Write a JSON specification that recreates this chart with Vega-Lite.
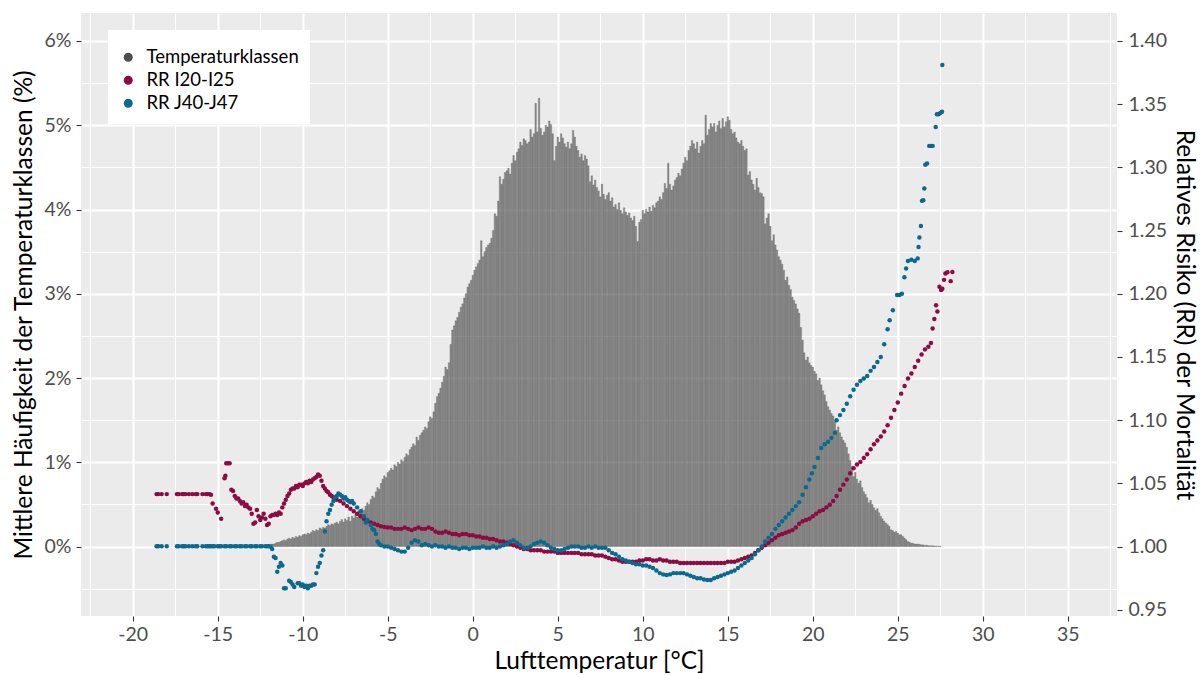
{
"$schema": "https://vega.github.io/schema/vega-lite/v6.json",
"width": 1036, "height": 603,
"autosize": "none",
"padding": {"left": 81, "top": 13, "right": 86, "bottom": 59},
"background": "white",
"config": {"view": {"fill": "#EBEBEB", "stroke": null}, "font": "Lato",
 "axis": {"domain": false, "labelFont": "Lato", "titleFont": "Lato", "labelFontSize": 19.5, "labelColor": "#4D4D4D", "titleFontSize": 24.5, "titleFontWeight": "normal", "titleColor": "#000000", "tickColor": "#333333", "tickSize": 5, "tickWidth": 1.1, "labelOverlap": false, "labelFlush": false}},
"datasets": {
"bars": [
{"t":-11.9,"p":0.02},{"t":-11.8,"p":0.03},{"t":-11.7,"p":0.03},{"t":-11.6,"p":0.04},{"t":-11.5,"p":0.05},{"t":-11.4,"p":0.05},{"t":-11.3,"p":0.06},{"t":-11.2,"p":0.07},{"t":-11.1,"p":0.08},{"t":-11.0,"p":0.07},
{"t":-10.9,"p":0.09},{"t":-10.8,"p":0.10},{"t":-10.7,"p":0.09},{"t":-10.6,"p":0.11},{"t":-10.5,"p":0.10},{"t":-10.4,"p":0.12},{"t":-10.3,"p":0.11},{"t":-10.2,"p":0.13},{"t":-10.1,"p":0.12},{"t":-10.0,"p":0.14},
{"t":-9.9,"p":0.15},{"t":-9.8,"p":0.14},{"t":-9.7,"p":0.16},{"t":-9.6,"p":0.15},{"t":-9.5,"p":0.17},{"t":-9.4,"p":0.19},{"t":-9.3,"p":0.18},{"t":-9.2,"p":0.20},{"t":-9.1,"p":0.19},{"t":-9.0,"p":0.22},
{"t":-8.9,"p":0.21},{"t":-8.8,"p":0.23},{"t":-8.7,"p":0.22},{"t":-8.6,"p":0.24},{"t":-8.5,"p":0.26},{"t":-8.4,"p":0.25},{"t":-8.3,"p":0.27},{"t":-8.2,"p":0.26},{"t":-8.1,"p":0.28},{"t":-8.0,"p":0.29},
{"t":-7.9,"p":0.27},{"t":-7.8,"p":0.30},{"t":-7.7,"p":0.32},{"t":-7.6,"p":0.29},{"t":-7.5,"p":0.33},{"t":-7.4,"p":0.31},{"t":-7.3,"p":0.35},{"t":-7.2,"p":0.30},{"t":-7.1,"p":0.36},{"t":-7.0,"p":0.34},
{"t":-6.9,"p":0.38},{"t":-6.8,"p":0.35},{"t":-6.7,"p":0.42},{"t":-6.6,"p":0.40},{"t":-6.5,"p":0.45},{"t":-6.4,"p":0.43},{"t":-6.3,"p":0.48},{"t":-6.2,"p":0.52},{"t":-6.1,"p":0.50},{"t":-6.0,"p":0.56},
{"t":-5.9,"p":0.60},{"t":-5.8,"p":0.58},{"t":-5.7,"p":0.65},{"t":-5.6,"p":0.70},{"t":-5.5,"p":0.68},{"t":-5.4,"p":0.75},{"t":-5.3,"p":0.80},{"t":-5.2,"p":0.84},{"t":-5.1,"p":0.82},{"t":-5.0,"p":0.88},
{"t":-4.9,"p":0.90},{"t":-4.8,"p":0.93},{"t":-4.7,"p":0.91},{"t":-4.6,"p":0.97},{"t":-4.5,"p":0.95},{"t":-4.4,"p":1.00},{"t":-4.3,"p":0.98},{"t":-4.2,"p":1.03},{"t":-4.1,"p":1.01},{"t":-4.0,"p":1.06},
{"t":-3.9,"p":1.10},{"t":-3.8,"p":1.08},{"t":-3.7,"p":1.15},{"t":-3.6,"p":1.18},{"t":-3.5,"p":1.22},{"t":-3.4,"p":1.20},{"t":-3.3,"p":1.30},{"t":-3.2,"p":1.26},{"t":-3.1,"p":1.32},{"t":-3.0,"p":1.35},
{"t":-2.9,"p":1.38},{"t":-2.8,"p":1.42},{"t":-2.7,"p":1.40},{"t":-2.6,"p":1.48},{"t":-2.5,"p":1.54},{"t":-2.4,"p":1.52},{"t":-2.3,"p":1.60},{"t":-2.2,"p":1.70},{"t":-2.1,"p":1.78},{"t":-2.0,"p":1.82},
{"t":-1.9,"p":1.88},{"t":-1.8,"p":1.95},{"t":-1.7,"p":2.02},{"t":-1.6,"p":2.13},{"t":-1.5,"p":2.10},{"t":-1.4,"p":2.18},{"t":-1.3,"p":2.40},{"t":-1.2,"p":2.57},{"t":-1.1,"p":2.62},{"t":-1.0,"p":2.68},
{"t":-0.9,"p":2.72},{"t":-0.8,"p":2.78},{"t":-0.7,"p":2.84},{"t":-0.6,"p":2.88},{"t":-0.5,"p":2.95},{"t":-0.4,"p":3.00},{"t":-0.3,"p":3.08},{"t":-0.2,"p":3.12},{"t":-0.1,"p":3.16},{"t":0.0,"p":3.22},
{"t":0.1,"p":3.28},{"t":0.2,"p":3.32},{"t":0.3,"p":3.36},{"t":0.4,"p":3.40},{"t":0.5,"p":3.63},{"t":0.6,"p":3.44},{"t":0.7,"p":3.50},{"t":0.8,"p":3.55},{"t":0.9,"p":3.58},{"t":1.0,"p":3.60},
{"t":1.1,"p":3.66},{"t":1.2,"p":3.75},{"t":1.3,"p":3.95},{"t":1.4,"p":3.92},{"t":1.5,"p":4.10},{"t":1.6,"p":4.39},{"t":1.7,"p":4.30},{"t":1.8,"p":4.36},{"t":1.9,"p":4.44},{"t":2.0,"p":4.46},
{"t":2.1,"p":4.49},{"t":2.2,"p":4.42},{"t":2.3,"p":4.55},{"t":2.4,"p":4.64},{"t":2.5,"p":4.58},{"t":2.6,"p":4.68},{"t":2.7,"p":4.72},{"t":2.8,"p":4.80},{"t":2.9,"p":4.76},{"t":3.0,"p":4.84},
{"t":3.1,"p":4.82},{"t":3.2,"p":4.78},{"t":3.3,"p":4.80},{"t":3.4,"p":4.95},{"t":3.5,"p":4.86},{"t":3.6,"p":4.90},{"t":3.7,"p":5.26},{"t":3.8,"p":4.92},{"t":3.9,"p":5.32},{"t":4.0,"p":4.96},
{"t":4.1,"p":4.88},{"t":4.2,"p":4.92},{"t":4.3,"p":5.00},{"t":4.4,"p":4.98},{"t":4.5,"p":5.05},{"t":4.6,"p":5.01},{"t":4.7,"p":4.90},{"t":4.8,"p":4.58},{"t":4.9,"p":4.75},{"t":5.0,"p":4.86},
{"t":5.1,"p":4.80},{"t":5.2,"p":4.90},{"t":5.3,"p":4.85},{"t":5.4,"p":4.78},{"t":5.5,"p":4.74},{"t":5.6,"p":4.80},{"t":5.7,"p":4.72},{"t":5.8,"p":4.78},{"t":5.9,"p":4.94},{"t":6.0,"p":4.86},
{"t":6.1,"p":4.75},{"t":6.2,"p":4.70},{"t":6.3,"p":4.62},{"t":6.4,"p":4.66},{"t":6.5,"p":4.58},{"t":6.6,"p":4.64},{"t":6.7,"p":4.60},{"t":6.8,"p":4.52},{"t":6.9,"p":4.33},{"t":7.0,"p":4.40},
{"t":7.1,"p":4.29},{"t":7.2,"p":4.35},{"t":7.3,"p":4.26},{"t":7.4,"p":4.22},{"t":7.5,"p":4.15},{"t":7.6,"p":4.30},{"t":7.7,"p":4.18},{"t":7.8,"p":4.12},{"t":7.9,"p":4.17},{"t":8.0,"p":4.20},
{"t":8.1,"p":4.10},{"t":8.2,"p":4.14},{"t":8.3,"p":4.03},{"t":8.4,"p":4.06},{"t":8.5,"p":4.00},{"t":8.6,"p":4.08},{"t":8.7,"p":3.99},{"t":8.8,"p":3.95},{"t":8.9,"p":4.02},{"t":9.0,"p":3.97},
{"t":9.1,"p":3.93},{"t":9.2,"p":3.96},{"t":9.3,"p":3.90},{"t":9.4,"p":3.87},{"t":9.5,"p":3.92},{"t":9.6,"p":3.80},{"t":9.7,"p":3.62},{"t":9.8,"p":3.85},{"t":9.9,"p":3.88},{"t":10.0,"p":3.99},
{"t":10.1,"p":3.95},{"t":10.2,"p":4.00},{"t":10.3,"p":3.97},{"t":10.4,"p":4.03},{"t":10.5,"p":3.98},{"t":10.6,"p":4.05},{"t":10.7,"p":4.02},{"t":10.8,"p":4.08},{"t":10.9,"p":4.10},{"t":11.0,"p":4.15},
{"t":11.1,"p":4.12},{"t":11.2,"p":4.20},{"t":11.3,"p":4.31},{"t":11.4,"p":4.25},{"t":11.5,"p":4.55},{"t":11.6,"p":4.30},{"t":11.7,"p":4.23},{"t":11.8,"p":4.28},{"t":11.9,"p":4.35},{"t":12.0,"p":4.38},
{"t":12.1,"p":4.43},{"t":12.2,"p":4.40},{"t":12.3,"p":4.48},{"t":12.4,"p":4.55},{"t":12.5,"p":4.62},{"t":12.6,"p":4.58},{"t":12.7,"p":4.70},{"t":12.8,"p":4.75},{"t":12.9,"p":4.82},{"t":13.0,"p":4.78},
{"t":13.1,"p":4.72},{"t":13.2,"p":4.80},{"t":13.3,"p":4.67},{"t":13.4,"p":4.75},{"t":13.5,"p":4.82},{"t":13.6,"p":4.78},{"t":13.7,"p":5.12},{"t":13.8,"p":4.88},{"t":13.9,"p":4.95},{"t":14.0,"p":5.02},
{"t":14.1,"p":4.98},{"t":14.2,"p":5.02},{"t":14.3,"p":4.92},{"t":14.4,"p":5.00},{"t":14.5,"p":5.05},{"t":14.6,"p":4.96},{"t":14.7,"p":5.08},{"t":14.8,"p":4.98},{"t":14.9,"p":5.04},{"t":15.0,"p":5.10},
{"t":15.1,"p":5.06},{"t":15.2,"p":4.95},{"t":15.3,"p":4.90},{"t":15.4,"p":4.92},{"t":15.5,"p":4.85},{"t":15.6,"p":4.80},{"t":15.7,"p":4.78},{"t":15.8,"p":4.82},{"t":15.9,"p":4.75},{"t":16.0,"p":4.70},
{"t":16.1,"p":4.72},{"t":16.2,"p":4.41},{"t":16.3,"p":4.45},{"t":16.4,"p":4.35},{"t":16.5,"p":4.30},{"t":16.6,"p":4.23},{"t":16.7,"p":4.37},{"t":16.8,"p":4.26},{"t":16.9,"p":4.20},{"t":17.0,"p":4.19},
{"t":17.1,"p":4.15},{"t":17.2,"p":3.83},{"t":17.3,"p":3.90},{"t":17.4,"p":3.95},{"t":17.5,"p":3.80},{"t":17.6,"p":3.63},{"t":17.7,"p":3.70},{"t":17.8,"p":3.58},{"t":17.9,"p":3.52},{"t":18.0,"p":3.44},
{"t":18.1,"p":3.40},{"t":18.2,"p":3.35},{"t":18.3,"p":3.28},{"t":18.4,"p":3.16},{"t":18.5,"p":3.20},{"t":18.6,"p":3.10},{"t":18.7,"p":3.05},{"t":18.8,"p":2.96},{"t":18.9,"p":2.92},{"t":19.0,"p":2.88},
{"t":19.1,"p":2.82},{"t":19.2,"p":2.77},{"t":19.3,"p":2.60},{"t":19.4,"p":2.45},{"t":19.5,"p":2.30},{"t":19.6,"p":2.21},{"t":19.7,"p":2.25},{"t":19.8,"p":2.18},{"t":19.9,"p":2.15},{"t":20.0,"p":2.13},
{"t":20.1,"p":2.08},{"t":20.2,"p":2.05},{"t":20.3,"p":1.97},{"t":20.4,"p":2.00},{"t":20.5,"p":1.92},{"t":20.6,"p":1.85},{"t":20.7,"p":1.80},{"t":20.8,"p":1.72},{"t":20.9,"p":1.66},{"t":21.0,"p":1.62},
{"t":21.1,"p":1.58},{"t":21.2,"p":1.55},{"t":21.3,"p":1.48},{"t":21.4,"p":1.38},{"t":21.5,"p":1.42},{"t":21.6,"p":1.35},{"t":21.7,"p":1.30},{"t":21.8,"p":1.26},{"t":21.9,"p":1.23},{"t":22.0,"p":1.18},
{"t":22.1,"p":1.10},{"t":22.2,"p":1.02},{"t":22.3,"p":0.95},{"t":22.4,"p":0.83},{"t":22.5,"p":0.88},{"t":22.6,"p":0.80},{"t":22.7,"p":0.75},{"t":22.8,"p":0.78},{"t":22.9,"p":0.70},{"t":23.0,"p":0.65},
{"t":23.1,"p":0.62},{"t":23.2,"p":0.58},{"t":23.3,"p":0.52},{"t":23.4,"p":0.55},{"t":23.5,"p":0.50},{"t":23.6,"p":0.46},{"t":23.7,"p":0.43},{"t":23.8,"p":0.45},{"t":23.9,"p":0.40},{"t":24.0,"p":0.36},
{"t":24.1,"p":0.33},{"t":24.2,"p":0.30},{"t":24.3,"p":0.28},{"t":24.4,"p":0.26},{"t":24.5,"p":0.24},{"t":24.6,"p":0.20},{"t":24.7,"p":0.19},{"t":24.8,"p":0.17},{"t":24.9,"p":0.18},{"t":25.0,"p":0.16},
{"t":25.1,"p":0.14},{"t":25.2,"p":0.14},{"t":25.3,"p":0.12},{"t":25.4,"p":0.10},{"t":25.5,"p":0.08},{"t":25.6,"p":0.06},{"t":25.7,"p":0.05},{"t":25.8,"p":0.04},{"t":25.9,"p":0.04},{"t":26.0,"p":0.03},
{"t":26.1,"p":0.03},{"t":26.2,"p":0.03},{"t":26.3,"p":0.025},{"t":26.4,"p":0.02},{"t":26.5,"p":0.02},{"t":26.6,"p":0.015},{"t":26.7,"p":0.015},{"t":26.8,"p":0.01},{"t":26.9,"p":0.01},{"t":27.0,"p":0.01},
{"t":27.1,"p":0.008},{"t":27.2,"p":0.006},{"t":27.3,"p":0.005},{"t":27.4,"p":0.004},{"t":27.5,"p":0.003}
],
"red": [
{"t":-18.6,"r":1.0415},{"t":-18.5,"r":1.0415},{"t":-18.3,"r":1.0415},{"t":-18.0,"r":1.0415},{"t":-17.4,"r":1.0415},{"t":-17.3,"r":1.0415},{"t":-17.1,"r":1.0415},{"t":-17.0,"r":1.0415},{"t":-16.9,"r":1.0415},{"t":-16.7,"r":1.0415},{"t":-16.5,"r":1.0415},{"t":-16.3,"r":1.0415},{"t":-16.2,"r":1.0415},{"t":-15.9,"r":1.0415},{"t":-15.7,"r":1.0415},{"t":-15.6,"r":1.0415},{"t":-15.5,"r":1.0415},{"t":-15.4,"r":1.041},
{"t":-15.3,"r":1.034},{"t":-15.1,"r":1.030},{"t":-15.0,"r":1.027},{"t":-14.8,"r":1.022},{"t":-14.6,"r":1.054},{"t":-14.55,"r":1.056},{"t":-14.5,"r":1.066},{"t":-14.4,"r":1.066},{"t":-14.3,"r":1.066},{"t":-14.2,"r":1.045},{"t":-14.1,"r":1.044},{"t":-14.0,"r":1.040},{"t":-13.9,"r":1.038},{"t":-13.8,"r":1.038},{"t":-13.7,"r":1.036},{"t":-13.6,"r":1.034},{"t":-13.5,"r":1.035},{"t":-13.4,"r":1.032},{"t":-13.3,"r":1.033},{"t":-13.2,"r":1.031},{"t":-13.1,"r":1.030},{"t":-13.0,"r":1.026},{"t":-12.9,"r":1.018},{"t":-12.8,"r":1.019},{"t":-12.7,"r":1.029},{"t":-12.6,"r":1.024},{"t":-12.5,"r":1.021},{"t":-12.4,"r":1.023},{"t":-12.3,"r":1.026},{"t":-12.2,"r":1.022},{"t":-12.1,"r":1.017},{"t":-12.0,"r":1.018},
{"t":-11.9,"r":1.024},{"t":-11.8,"r":1.025},{"t":-11.7,"r":1.025},{"t":-11.6,"r":1.026},{"t":-11.5,"r":1.025},{"t":-11.4,"r":1.027},{"t":-11.3,"r":1.026},{"t":-11.2,"r":1.031},{"t":-11.1,"r":1.034},{"t":-11.0,"r":1.037},{"t":-10.9,"r":1.040},{"t":-10.8,"r":1.042},{"t":-10.7,"r":1.045},{"t":-10.6,"r":1.046},{"t":-10.5,"r":1.046},{"t":-10.4,"r":1.048},{"t":-10.3,"r":1.047},{"t":-10.2,"r":1.049},{"t":-10.1,"r":1.049},{"t":-10.0,"r":1.048},
{"t":-9.9,"r":1.050},{"t":-9.8,"r":1.051},{"t":-9.7,"r":1.050},{"t":-9.6,"r":1.052},{"t":-9.5,"r":1.051},{"t":-9.4,"r":1.053},{"t":-9.3,"r":1.054},{"t":-9.2,"r":1.055},{"t":-9.1,"r":1.057},{"t":-9.0,"r":1.056},{"t":-8.9,"r":1.052},{"t":-8.8,"r":1.048},{"t":-8.7,"r":1.046},{"t":-8.6,"r":1.044},{"t":-8.5,"r":1.043},{"t":-8.4,"r":1.041},{"t":-8.3,"r":1.040},{"t":-8.2,"r":1.039},{"t":-8.1,"r":1.038},{"t":-8.0,"r":1.037},
{"t":-7.8,"r":1.036},{"t":-7.6,"r":1.034},{"t":-7.4,"r":1.032},{"t":-7.2,"r":1.030},{"t":-7.0,"r":1.028},{"t":-6.8,"r":1.026},{"t":-6.6,"r":1.024},{"t":-6.4,"r":1.022},{"t":-6.2,"r":1.020},{"t":-6.0,"r":1.019},{"t":-5.8,"r":1.018},{"t":-5.6,"r":1.017},{"t":-5.4,"r":1.016},{"t":-5.2,"r":1.0155},
{"t":-5.0,"r":1.015},{"t":-4.8,"r":1.015},{"t":-4.6,"r":1.014},{"t":-4.4,"r":1.014},{"t":-4.2,"r":1.014},{"t":-4.0,"r":1.015},{"t":-3.8,"r":1.014},{"t":-3.6,"r":1.013},{"t":-3.4,"r":1.014},{"t":-3.2,"r":1.015},{"t":-3.0,"r":1.014},{"t":-2.8,"r":1.014},{"t":-2.6,"r":1.015},{"t":-2.4,"r":1.014},{"t":-2.2,"r":1.012},{"t":-2.0,"r":1.011},{"t":-1.8,"r":1.011},{"t":-1.6,"r":1.012},{"t":-1.4,"r":1.011},{"t":-1.2,"r":1.010},{"t":-1.0,"r":1.010},{"t":-0.8,"r":1.009},{"t":-0.6,"r":1.010},{"t":-0.4,"r":1.010},{"t":-0.2,"r":1.009},
{"t":0.0,"r":1.009},{"t":0.2,"r":1.008},{"t":0.4,"r":1.008},{"t":0.6,"r":1.007},{"t":0.8,"r":1.007},{"t":1.0,"r":1.006},{"t":1.2,"r":1.006},{"t":1.4,"r":1.005},{"t":1.6,"r":1.004},{"t":1.8,"r":1.004},{"t":2.0,"r":1.003},{"t":2.2,"r":1.002},{"t":2.4,"r":1.001},{"t":2.6,"r":1.000},{"t":2.8,"r":0.999},{"t":3.0,"r":0.998},{"t":3.2,"r":0.998},{"t":3.4,"r":0.997},{"t":3.6,"r":0.997},{"t":3.8,"r":0.997},{"t":4.0,"r":0.997},{"t":4.2,"r":0.996},{"t":4.4,"r":0.996},{"t":4.6,"r":0.996},{"t":4.8,"r":0.996},
{"t":5.0,"r":0.995},{"t":5.2,"r":0.995},{"t":5.4,"r":0.995},{"t":5.6,"r":0.995},{"t":5.8,"r":0.995},{"t":6.0,"r":0.995},{"t":6.2,"r":0.995},{"t":6.4,"r":0.994},{"t":6.6,"r":0.994},{"t":6.8,"r":0.994},{"t":7.0,"r":0.994},{"t":7.2,"r":0.993},{"t":7.4,"r":0.993},{"t":7.6,"r":0.993},{"t":7.8,"r":0.992},{"t":8.0,"r":0.991},{"t":8.2,"r":0.990},{"t":8.4,"r":0.990},{"t":8.6,"r":0.989},{"t":8.8,"r":0.988},{"t":9.0,"r":0.988},{"t":9.2,"r":0.988},{"t":9.4,"r":0.988},{"t":9.6,"r":0.988},{"t":9.8,"r":0.989},
{"t":10.0,"r":0.989},{"t":10.2,"r":0.990},{"t":10.4,"r":0.990},{"t":10.6,"r":0.989},{"t":10.8,"r":0.989},{"t":11.0,"r":0.990},{"t":11.2,"r":0.989},{"t":11.4,"r":0.989},{"t":11.6,"r":0.988},{"t":11.8,"r":0.988},{"t":12.0,"r":0.988},{"t":12.2,"r":0.987},{"t":12.4,"r":0.987},{"t":12.6,"r":0.987},{"t":12.8,"r":0.987},{"t":13.0,"r":0.987},{"t":13.2,"r":0.987},{"t":13.4,"r":0.987},{"t":13.6,"r":0.987},{"t":13.8,"r":0.987},{"t":14.0,"r":0.987},{"t":14.2,"r":0.987},{"t":14.4,"r":0.987},{"t":14.6,"r":0.987},{"t":14.8,"r":0.987},
{"t":15.0,"r":0.988},{"t":15.2,"r":0.988},{"t":15.4,"r":0.988},{"t":15.6,"r":0.989},{"t":15.8,"r":0.990},{"t":16.0,"r":0.991},{"t":16.2,"r":0.992},{"t":16.4,"r":0.993},{"t":16.6,"r":0.995},{"t":16.8,"r":0.997},{"t":17.0,"r":0.999},{"t":17.2,"r":1.001},{"t":17.4,"r":1.003},{"t":17.6,"r":1.005},{"t":17.8,"r":1.007},{"t":18.0,"r":1.009},{"t":18.2,"r":1.010},{"t":18.4,"r":1.011},{"t":18.6,"r":1.012},{"t":18.8,"r":1.013},{"t":19.0,"r":1.015},
{"t":19.2,"r":1.018},{"t":19.4,"r":1.020},{"t":19.6,"r":1.021},{"t":19.8,"r":1.022},{"t":20.0,"r":1.024},{"t":20.2,"r":1.026},{"t":20.4,"r":1.028},{"t":20.6,"r":1.029},{"t":20.8,"r":1.031},{"t":21.0,"r":1.033},{"t":21.2,"r":1.036},{"t":21.4,"r":1.040},{"t":21.6,"r":1.045},{"t":21.8,"r":1.049},{"t":22.0,"r":1.053},{"t":22.2,"r":1.058},{"t":22.4,"r":1.062},{"t":22.6,"r":1.065},{"t":22.8,"r":1.067},{"t":23.0,"r":1.070},{"t":23.2,"r":1.073},{"t":23.4,"r":1.077},{"t":23.6,"r":1.081},{"t":23.8,"r":1.084},{"t":24.0,"r":1.087},{"t":24.2,"r":1.091},{"t":24.4,"r":1.096},{"t":24.6,"r":1.102},{"t":24.8,"r":1.108},{"t":25.0,"r":1.114},{"t":25.2,"r":1.121},
{"t":25.4,"r":1.127},{"t":25.6,"r":1.133},{"t":25.8,"r":1.137},{"t":26.0,"r":1.142},{"t":26.2,"r":1.147},{"t":26.4,"r":1.152},{"t":26.6,"r":1.156},{"t":26.8,"r":1.158},{"t":26.95,"r":1.161},{"t":27.05,"r":1.1725},{"t":27.15,"r":1.180},{"t":27.25,"r":1.191},{"t":27.33,"r":1.186},{"t":27.45,"r":1.2055},{"t":27.55,"r":1.203},{"t":27.62,"r":1.204},{"t":27.72,"r":1.211},{"t":27.8,"r":1.216},{"t":27.92,"r":1.217},{"t":28.11,"r":1.21},{"t":28.21,"r":1.2173}
],
"blue": [
{"t":-18.6,"r":1.0003},{"t":-18.5,"r":1.0003},{"t":-18.3,"r":1.0003},{"t":-18.0,"r":1.0003},{"t":-17.4,"r":1.0003},{"t":-17.3,"r":1.0003},{"t":-17.1,"r":1.0003},{"t":-17.0,"r":1.0003},{"t":-16.9,"r":1.0003},{"t":-16.7,"r":1.0003},{"t":-16.5,"r":1.0003},{"t":-16.3,"r":1.0003},{"t":-16.2,"r":1.0003},{"t":-15.9,"r":1.0003},{"t":-15.7,"r":1.0003},{"t":-15.6,"r":1.0003},{"t":-15.5,"r":1.0003},{"t":-15.4,"r":1.0003},
{"t":-15.3,"r":1.0003},{"t":-15.2,"r":1.0003},{"t":-15.0,"r":1.0003},{"t":-14.9,"r":1.0003},{"t":-14.8,"r":1.0003},{"t":-14.6,"r":1.0003},{"t":-14.5,"r":1.0003},{"t":-14.3,"r":1.0003},{"t":-14.2,"r":1.0003},{"t":-14.0,"r":1.0003},{"t":-13.9,"r":1.0003},{"t":-13.7,"r":1.0003},{"t":-13.6,"r":1.0003},{"t":-13.4,"r":1.0003},{"t":-13.3,"r":1.0003},{"t":-13.1,"r":1.0003},{"t":-13.0,"r":1.0003},{"t":-12.8,"r":1.0003},{"t":-12.7,"r":1.0003},{"t":-12.5,"r":1.0003},{"t":-12.4,"r":1.0003},{"t":-12.2,"r":1.0003},{"t":-12.1,"r":1.0003},{"t":-12.0,"r":1.0003},
{"t":-11.9,"r":1.000},{"t":-11.8,"r":0.998},{"t":-11.7,"r":0.992},{"t":-11.6,"r":0.991},{"t":-11.5,"r":0.980},{"t":-11.4,"r":0.984},{"t":-11.3,"r":0.987},{"t":-11.2,"r":0.985},{"t":-11.1,"r":0.967},{"t":-11.0,"r":0.967},{"t":-10.8,"r":0.973},{"t":-10.7,"r":0.972},{"t":-10.6,"r":0.970},{"t":-10.5,"r":0.968},{"t":-10.3,"r":0.971},{"t":-10.2,"r":0.971},{"t":-10.1,"r":0.969},{"t":-10.0,"r":0.970},{"t":-9.9,"r":0.968},{"t":-9.8,"r":0.969},{"t":-9.7,"r":0.967},{"t":-9.6,"r":0.969},{"t":-9.5,"r":0.969},{"t":-9.4,"r":0.970},{"t":-9.3,"r":0.970},
{"t":-9.2,"r":0.979},{"t":-9.1,"r":0.984},{"t":-9.0,"r":0.987},{"t":-8.9,"r":0.993},{"t":-8.8,"r":0.997},{"t":-8.7,"r":1.012},{"t":-8.6,"r":1.020},{"t":-8.5,"r":1.026},{"t":-8.4,"r":1.029},{"t":-8.3,"r":1.033},{"t":-8.2,"r":1.036},{"t":-8.1,"r":1.039},{"t":-8.0,"r":1.040},{"t":-7.9,"r":1.042},{"t":-7.8,"r":1.041},{"t":-7.7,"r":1.040},{"t":-7.6,"r":1.038},{"t":-7.5,"r":1.039},{"t":-7.4,"r":1.037},{"t":-7.3,"r":1.036},{"t":-7.2,"r":1.035},{"t":-7.1,"r":1.036},{"t":-7.0,"r":1.034},
{"t":-6.8,"r":1.031},{"t":-6.6,"r":1.028},{"t":-6.4,"r":1.024},{"t":-6.3,"r":1.019},{"t":-6.2,"r":1.021},{"t":-6.0,"r":1.017},{"t":-5.9,"r":1.014},{"t":-5.8,"r":1.013},{"t":-5.7,"r":1.010},{"t":-5.6,"r":1.004},{"t":-5.5,"r":1.002},{"t":-5.4,"r":1.001},{"t":-5.2,"r":1.000},{"t":-5.0,"r":1.000},{"t":-4.8,"r":0.999},{"t":-4.6,"r":0.998},{"t":-4.4,"r":0.997},{"t":-4.2,"r":0.996},{"t":-4.0,"r":0.996},{"t":-3.8,"r":0.999},{"t":-3.6,"r":1.003},{"t":-3.4,"r":1.005},{"t":-3.2,"r":1.004},
{"t":-3.0,"r":1.001},{"t":-2.8,"r":1.002},{"t":-2.6,"r":1.001},{"t":-2.4,"r":1.000},{"t":-2.2,"r":1.001},{"t":-2.0,"r":1.000},{"t":-1.8,"r":1.000},{"t":-1.6,"r":0.999},{"t":-1.4,"r":1.000},{"t":-1.2,"r":0.999},{"t":-1.0,"r":0.999},{"t":-0.8,"r":0.998},{"t":-0.6,"r":0.999},{"t":-0.4,"r":0.999},{"t":-0.2,"r":0.998},{"t":0.0,"r":0.999},
{"t":0.2,"r":0.999},{"t":0.4,"r":0.999},{"t":0.6,"r":1.000},{"t":0.8,"r":0.999},{"t":1.0,"r":0.999},{"t":1.2,"r":1.000},{"t":1.4,"r":0.999},{"t":1.6,"r":1.000},{"t":1.8,"r":1.001},{"t":2.0,"r":1.002},{"t":2.2,"r":1.004},{"t":2.4,"r":1.005},{"t":2.6,"r":1.003},{"t":2.8,"r":1.001},{"t":3.0,"r":0.999},{"t":3.2,"r":0.999},{"t":3.4,"r":1.000},{"t":3.6,"r":1.002},{"t":3.8,"r":1.003},{"t":4.0,"r":1.004},{"t":4.2,"r":1.003},{"t":4.4,"r":1.001},{"t":4.6,"r":0.999},{"t":4.8,"r":0.998},
{"t":5.0,"r":0.997},{"t":5.2,"r":0.997},{"t":5.4,"r":0.998},{"t":5.6,"r":0.999},{"t":5.8,"r":1.000},{"t":6.0,"r":1.000},{"t":6.2,"r":1.000},{"t":6.4,"r":0.999},{"t":6.6,"r":0.999},{"t":6.8,"r":1.000},{"t":7.0,"r":0.999},{"t":7.2,"r":1.000},{"t":7.4,"r":0.999},{"t":7.6,"r":0.999},{"t":7.8,"r":0.999},{"t":8.0,"r":0.997},{"t":8.2,"r":0.995},{"t":8.4,"r":0.994},{"t":8.6,"r":0.992},{"t":8.8,"r":0.990},{"t":9.0,"r":0.989},{"t":9.2,"r":0.988},{"t":9.4,"r":0.987},{"t":9.6,"r":0.986},{"t":9.8,"r":0.986},
{"t":10.0,"r":0.985},{"t":10.2,"r":0.985},{"t":10.4,"r":0.984},{"t":10.6,"r":0.983},{"t":10.8,"r":0.981},{"t":11.0,"r":0.979},{"t":11.2,"r":0.978},{"t":11.4,"r":0.9775},{"t":11.6,"r":0.978},{"t":11.8,"r":0.979},{"t":12.0,"r":0.979},{"t":12.2,"r":0.979},{"t":12.4,"r":0.979},{"t":12.6,"r":0.978},{"t":12.8,"r":0.977},{"t":13.0,"r":0.976},{"t":13.2,"r":0.975},{"t":13.4,"r":0.975},{"t":13.6,"r":0.974},{"t":13.8,"r":0.9735},{"t":14.0,"r":0.9735},{"t":14.2,"r":0.975},{"t":14.4,"r":0.976},{"t":14.6,"r":0.977},{"t":14.8,"r":0.978},
{"t":15.0,"r":0.979},{"t":15.2,"r":0.980},{"t":15.4,"r":0.981},{"t":15.6,"r":0.983},{"t":15.8,"r":0.985},{"t":16.0,"r":0.987},{"t":16.2,"r":0.989},{"t":16.4,"r":0.991},{"t":16.6,"r":0.994},{"t":16.8,"r":0.997},{"t":17.0,"r":1.000},{"t":17.2,"r":1.004},{"t":17.4,"r":1.007},{"t":17.6,"r":1.010},{"t":17.8,"r":1.014},{"t":18.0,"r":1.017},{"t":18.2,"r":1.020},{"t":18.4,"r":1.023},{"t":18.6,"r":1.026},{"t":18.8,"r":1.029},{"t":19.0,"r":1.032},
{"t":19.2,"r":1.035},{"t":19.4,"r":1.041},{"t":19.6,"r":1.047},{"t":19.8,"r":1.053},{"t":19.95,"r":1.058},{"t":20.1,"r":1.063},{"t":20.3,"r":1.070},{"t":20.5,"r":1.078},{"t":20.7,"r":1.081},{"t":20.9,"r":1.083},{"t":21.1,"r":1.086},{"t":21.3,"r":1.090},{"t":21.4,"r":1.100},{"t":21.6,"r":1.104},{"t":21.8,"r":1.108},{"t":22.0,"r":1.113},{"t":22.2,"r":1.119},{"t":22.4,"r":1.124},{"t":22.6,"r":1.128},{"t":22.8,"r":1.131},{"t":23.0,"r":1.133},{"t":23.2,"r":1.135},{"t":23.4,"r":1.139},{"t":23.6,"r":1.142},{"t":23.8,"r":1.146},{"t":24.0,"r":1.150},{"t":24.2,"r":1.160},{"t":24.4,"r":1.172},
{"t":24.52,"r":1.179},{"t":24.71,"r":1.187},{"t":24.96,"r":1.199},{"t":25.1,"r":1.199},{"t":25.24,"r":1.200},{"t":25.39,"r":1.213},{"t":25.49,"r":1.220},{"t":25.6,"r":1.226},{"t":25.8,"r":1.227},{"t":26.0,"r":1.226},{"t":26.17,"r":1.228},{"t":26.22,"r":1.237},{"t":26.27,"r":1.2445},{"t":26.36,"r":1.2537},{"t":26.42,"r":1.2735},{"t":26.5,"r":1.274},{"t":26.56,"r":1.2833},{"t":26.62,"r":1.302},{"t":26.72,"r":1.303},{"t":26.85,"r":1.317},{"t":26.95,"r":1.317},{"t":27.05,"r":1.317},{"t":27.23,"r":1.332},{"t":27.3,"r":1.342},{"t":27.4,"r":1.342},{"t":27.5,"r":1.343},{"t":27.6,"r":1.344},{"t":27.62,"r":1.381}
]
},
"encoding": {
 "x": {"field": "t", "type": "quantitative",
  "scale": {"domain": [-22.75, 37.6], "nice": false, "zero": false},
  "axis": {"orient": "bottom", "title": "Lufttemperatur [°C]", "titlePadding": 6, "labelPadding": 4,
   "values": [-22.5,-20,-17.5,-15,-12.5,-10,-7.5,-5,-2.5,0,2.5,5,7.5,10,12.5,15,17.5,20,22.5,25,27.5,30,32.5,35,37.5],
   "labelExpr": "datum.value % 5 === 0 ? '' + datum.value : ''",
   "grid": true, "gridColor": "#FFFFFF",
   "gridWidth": {"condition": {"test": "datum.value % 5 === 0", "value": 2}, "value": 1},
   "tickOpacity": {"condition": {"test": "datum.value % 5 === 0", "value": 1}, "value": 0}}}
},
"layer": [
 {"data": {"name": "bars"},
  "mark": {"type": "bar", "width": 1.45, "fillOpacity": 0.6, "stroke": "#555555", "strokeWidth": 0.3},
  "encoding": {
   "y": {"field": "p", "type": "quantitative",
    "scale": {"domain": [-0.824, 6.332], "nice": false, "zero": false},
    "axis": {"orient": "left", "title": "Mittlere Häufigkeit der Temperaturklassen (%)", "titlePadding": 8, "labelPadding": 5,
     "values": [-0.5,0,0.5,1,1.5,2,2.5,3,3.5,4,4.5,5,5.5,6],
     "labelExpr": "datum.value % 1 === 0 ? datum.value + '%' : ''",
     "grid": true, "gridColor": "#FFFFFF",
     "gridWidth": {"condition": {"test": "datum.value % 1 === 0", "value": 2}, "value": 1},
     "tickOpacity": {"condition": {"test": "datum.value % 1 === 0", "value": 1}, "value": 0}}},
   "color": {"datum": "Temperaturklassen", "type": "nominal",
    "scale": {"domain": ["Temperaturklassen", "RR I20-I25", "RR J40-J47"], "range": ["#4D4D4D", "#8C0C42", "#0A6A8E"]},
    "legend": {"orient": "none", "legendX": 27, "legendY": 17, "title": " ", "titleFontSize": 7, "titlePadding": 0,
     "fillColor": "#FFFFFF", "padding": 11, "symbolType": "circle", "symbolSize": 80, "symbolOpacity": 1, "symbolStrokeWidth": 0,
     "labelFontSize": 18.5, "labelFont": "Lato", "labelColor": "#000000", "rowPadding": 4, "labelOffset": 9}}
  }},
 {"layer": [
  {"data": {"name": "red"},
   "mark": {"type": "point", "filled": true, "size": 20, "opacity": 1},
   "encoding": {
    "y": {"field": "r", "type": "quantitative",
     "scale": {"domain": [0.94507, 1.42213], "nice": false, "zero": false},
     "axis": {"orient": "right", "title": "Relatives Risiko (RR) der Mortalität", "titlePadding": 5, "labelPadding": 6, "grid": false,
      "values": [0.95,1.0,1.05,1.1,1.15,1.2,1.25,1.3,1.35,1.4], "format": ".2f"}},
    "color": {"datum": "RR I20-I25", "type": "nominal"}}},
  {"data": {"name": "blue"},
   "mark": {"type": "point", "filled": true, "size": 20, "opacity": 1},
   "encoding": {
    "y": {"field": "r", "type": "quantitative"},
    "color": {"datum": "RR J40-J47", "type": "nominal"}}}
 ]}
],
"resolve": {"scale": {"y": "independent"}}
}
